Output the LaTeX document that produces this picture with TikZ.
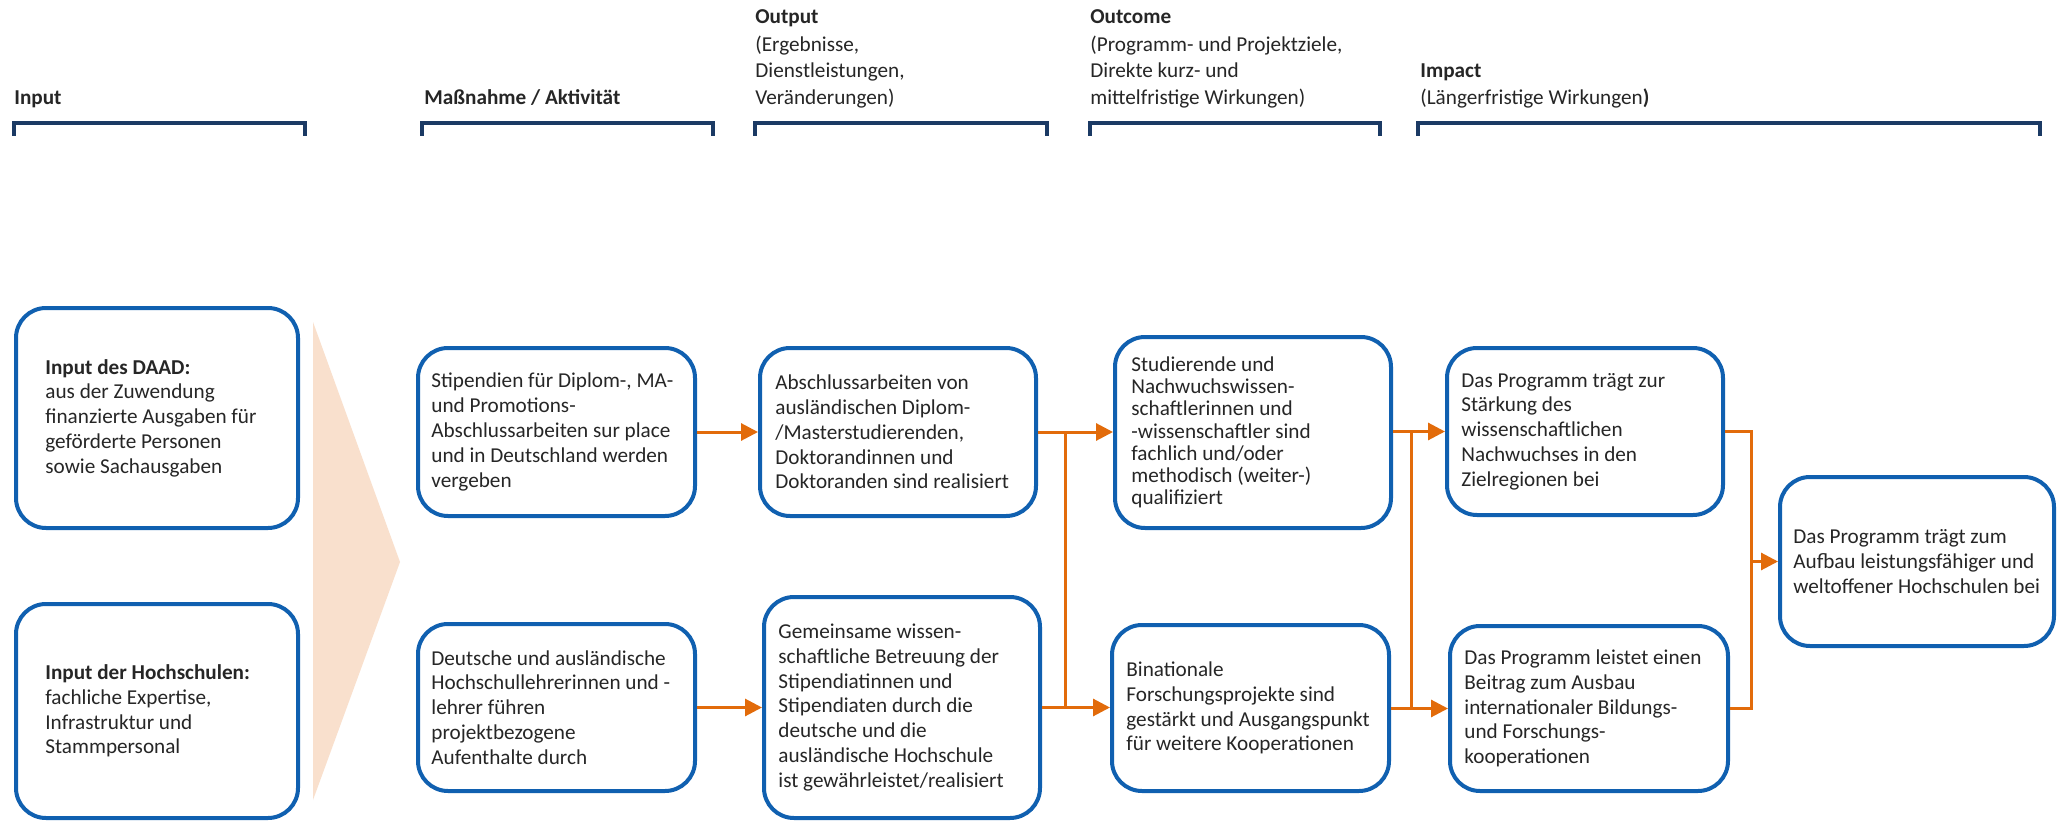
\documentclass[tikz,border=0pt]{standalone}
\usepackage{fontspec}
\setmainfont{Carlito}
\usetikzlibrary{arrows.meta}
\definecolor{boxblue}{RGB}{16,96,176}
\definecolor{navy}{RGB}{27,58,100}
\definecolor{arrorange}{RGB}{226,107,10}
\definecolor{peach}{RGB}{249,224,205}
\definecolor{txtc}{RGB}{38,38,38}
\begin{document}
\begin{tikzpicture}[x=0.5pt,y=-0.5pt,
  box/.style={draw=boxblue, line width=2pt, rounded corners=15pt, fill=white, inner sep=0pt},
  txt/.style={anchor=west, align=left, inner sep=0pt, text=txtc, font=\fontsize{10.6}{12.4}\selectfont},
  hdr/.style={anchor=base west, align=left, inner sep=0pt, text=txtc, font=\fontsize{10.6}{13.5}\selectfont},
  brk/.style={draw=navy, line width=1.75pt},
  conn/.style={draw=arrorange, line width=1.5pt},
  arr/.style={conn, -{Triangle[length=8.5pt,width=8.5pt]}}]
\useasboundingbox[fill=white] (0,0) rectangle (2058,840);

% header texts (anchored at the baseline of their last line)
\node[hdr] (hIn) at (14,105) {\textbf{Input}};
\node[hdr] (hMa) at (424,105) {\textbf{Maßnahme / Aktivität}};
\node[hdr] (hOut) at (755,105) {\textbf{Output}\\(Ergebnisse,\\Dienstleistungen,\\Veränderungen)};
\node[hdr] (hOc) at (1090,105) {\textbf{Outcome}\\(Programm- und Projektziele,\\Direkte kurz- und\\mittelfristige Wirkungen)};
\node[hdr] (hIm) at (1420,105) {\textbf{Impact}\\(Längerfristige Wirkungen\textbf{)}};

% header brackets
\draw[brk] (14,136) -- (14,123) -- (305,123) -- (305,136);
\draw[brk] (422,136) -- (422,123) -- (713,123) -- (713,136);
\draw[brk] (755,136) -- (755,123) -- (1047,123) -- (1047,136);
\draw[brk] (1090,136) -- (1090,123) -- (1380,123) -- (1380,136);
\draw[brk] (1418,136) -- (1418,123) -- (2040,123) -- (2040,136);

% chevron
\fill[peach] (313,322) -- (400,562) -- (313,800) -- cycle;

% boxes
\node[box, minimum width=141pt, minimum height=110pt] (In1) at (157,418) {};
\node[box, minimum width=141pt, minimum height=107pt] (In2) at (157,711) {};
\node[box, minimum width=138.5pt, minimum height=84pt] (A1) at (556.5,432) {};
\node[box, minimum width=138.5pt, minimum height=83.5pt] (A2) at (556.5,707.5) {};
\node[box, minimum width=138pt, minimum height=84pt] (O1) at (898,432) {};
\node[box, minimum width=138pt, minimum height=110.5pt] (O2) at (902,707.5) {};
\node[box, minimum width=138pt, minimum height=95.5pt] (C1) at (1253,432.5) {};
\node[box, minimum width=138.5pt, minimum height=83pt] (C2) at (1250.5,708) {};
\node[box, minimum width=138pt, minimum height=83.5pt] (I1) at (1585,431.5) {};
\node[box, minimum width=139pt, minimum height=82.5pt] (I2) at (1589,708.5) {};
\node[box, minimum width=137pt, minimum height=84.5pt] (F) at (1917,561.5) {};

% box texts
\node[txt] (In1t) at ([xshift=15.5pt]In1.west) {\textbf{Input des DAAD:}\\aus der Zuwendung\\finanzierte Ausgaben für\\geförderte Personen\\sowie Sachausgaben};
\node[txt] (In2t) at ([xshift=15.5pt]In2.west) {\textbf{Input der Hochschulen:}\\fachliche Expertise,\\Infrastruktur und\\Stammpersonal};
\node[txt] (A1t) at ([xshift=7.5pt]A1.west) {Stipendien für Diplom-, MA-\\und Promotions-\\Abschlussarbeiten sur place\\und in Deutschland werden\\vergeben};
\node[txt] (A2t) at ([xshift=7.5pt]A2.west) {Deutsche und ausländische\\Hochschullehrerinnen und -\\lehrer führen\\projektbezogene\\Aufenthalte durch};
\node[txt] (O1t) at ([xshift=8.5pt]O1.west) {Abschlussarbeiten von\\ausländischen Diplom-\\/Masterstudierenden,\\Doktorandinnen und\\Doktoranden sind realisiert};
\node[txt] (O2t) at ([xshift=8pt]O2.west) {Gemeinsame wissen-\\schaftliche Betreuung der\\Stipendiatinnen und\\Stipendiaten durch die\\deutsche und die\\ausländische Hochschule\\ist gewährleistet/realisiert};
\node[txt, font=\fontsize{10.6}{11.1}\selectfont] (C1t) at ([xshift=9pt]C1.west) {Studierende und\\Nachwuchswissen-\\schaftlerinnen und\\-wissenschaftler sind\\fachlich und/oder\\methodisch (weiter-)\\qualifiziert};
\node[txt] (C2t) at ([xshift=8pt]C2.west) {Binationale\\Forschungsprojekte sind\\gestärkt und Ausgangspunkt\\für weitere Kooperationen};
\node[txt] (I1t) at ([xshift=8pt]I1.west) {Das Programm trägt zur\\Stärkung des\\wissenschaftlichen\\Nachwuchses in den\\Zielregionen bei};
\node[txt] (I2t) at ([xshift=8pt]I2.west) {Das Programm leistet einen\\Beitrag zum Ausbau\\internationaler Bildungs-\\und Forschungs-\\kooperationen};
\node[txt] (Ft) at ([xshift=7.5pt]F.west) {Das Programm trägt zum\\Aufbau leistungsfähiger und\\weltoffener Hochschulen bei};

% junction coordinates
\coordinate (j1) at (1065,570);
\coordinate (j2) at (1411,570);
\coordinate (j3) at (1751,570);

% connectors
\draw[arr] (A1.east) -- (O1.west |- A1.east);
\draw[arr] (A2.east) -- (O2.west |- A2.east);
\draw[arr] (O1.east) -- (C1.west |- O1.east);
\draw[arr] (O2.east) -- (C2.west |- O2.east);
\draw[conn] (j1 |- O1.east) -- (j1 |- O2.east);
\draw[arr] (C1.east |- I1.west) -- (I1.west);
\draw[arr] (C2.east |- I2.west) -- (I2.west);
\draw[conn] (j2 |- I1.west) -- (j2 |- I2.west);
\draw[conn] (I1.east) -- (j3 |- I1.east) -- (j3 |- I2.east) -- (I2.east);
\draw[arr] (j3 |- F.west) -- (F.west);
\end{tikzpicture}
\end{document}
